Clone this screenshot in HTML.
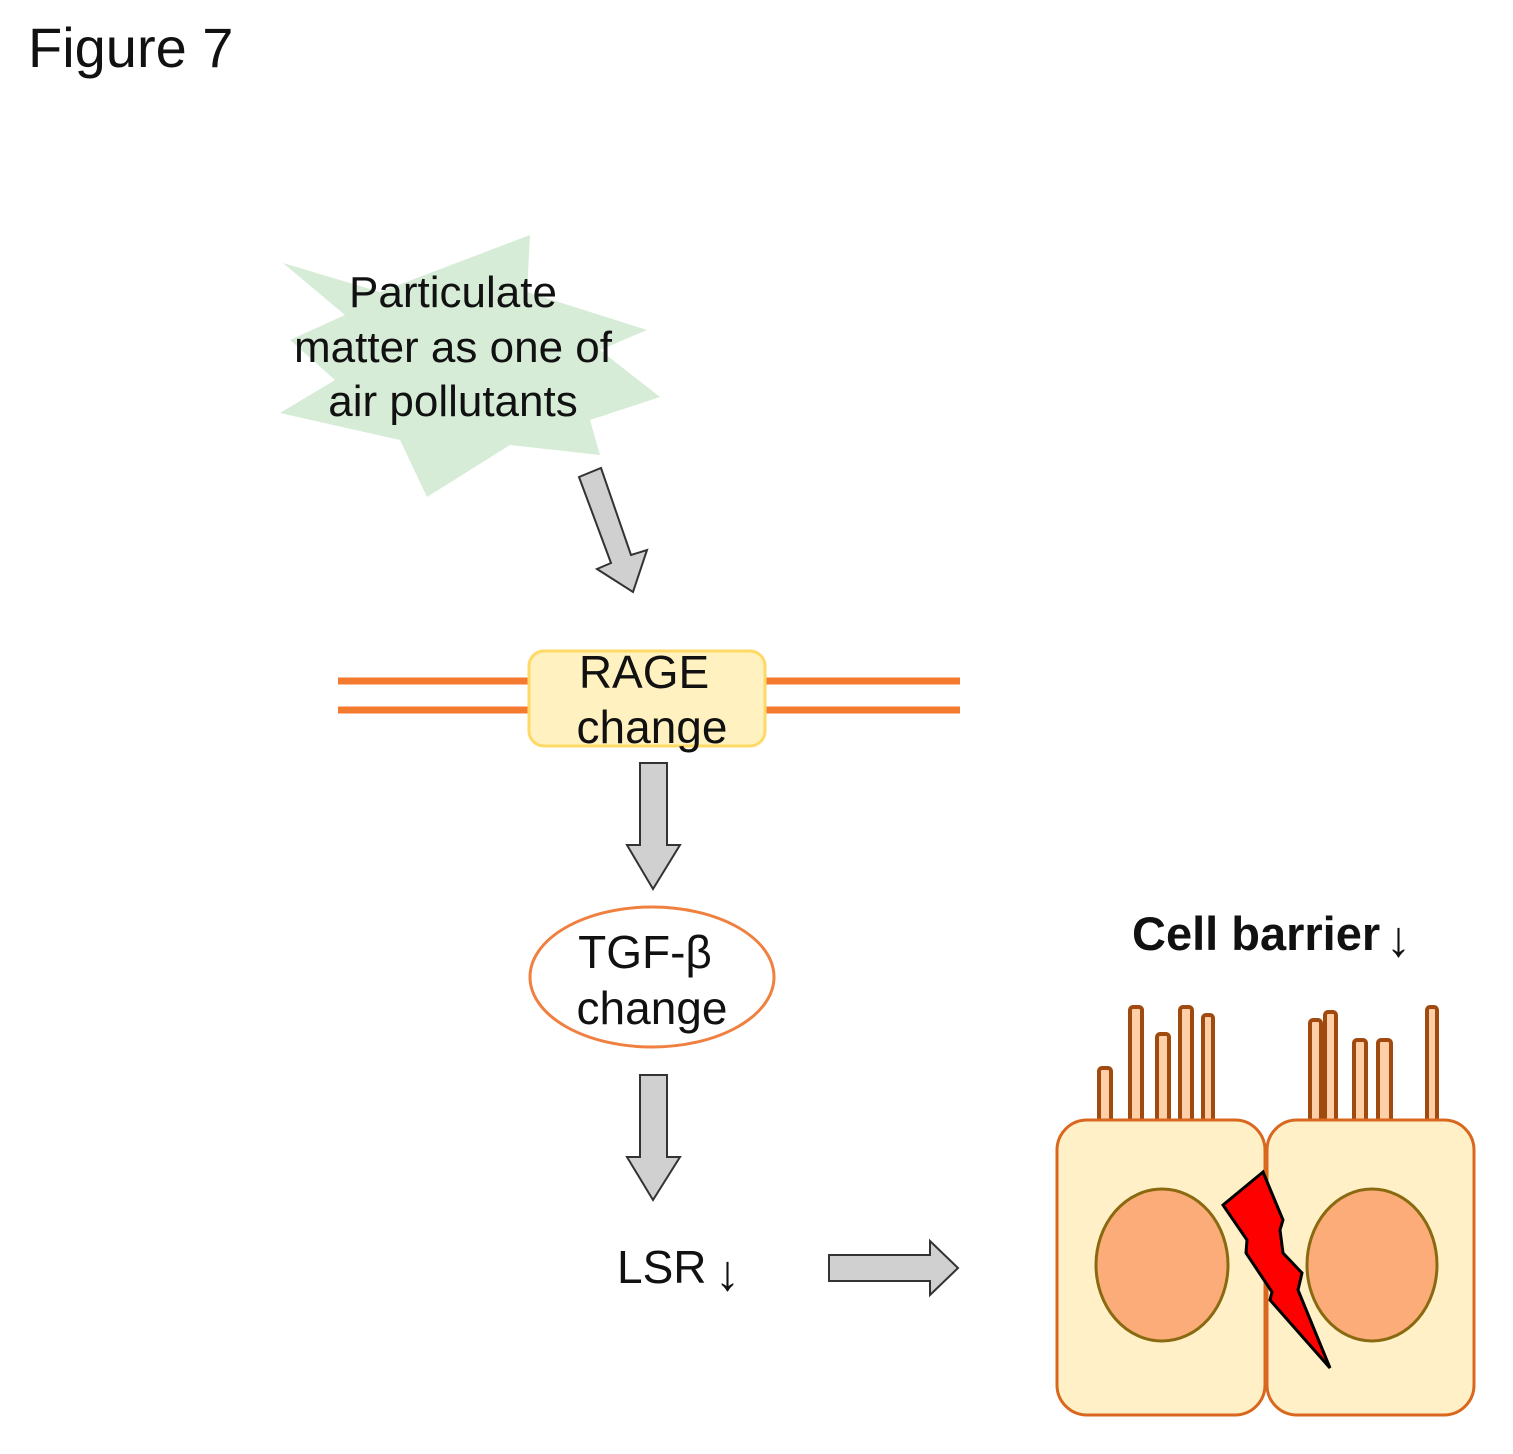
<!DOCTYPE html>
<html><head><meta charset="utf-8"><style>
html,body{margin:0;padding:0;background:#fff;}
svg{display:block;}
text{font-family:"Liberation Sans",Arial,sans-serif;fill:#111;}
</style></head><body>
<svg width="1513" height="1454" viewBox="0 0 1513 1454" xmlns="http://www.w3.org/2000/svg">
<text x="28" y="67" font-size="56">Figure 7</text>
<polygon fill="#d6ecd6" points="283,263 380,292 530,235 527,292 647,330 600,350 660,397 590,420 600,455 510,445 427,497 400,440 280,413 335,380 290,340 345,315"/>
<text x="453" y="307" font-size="44" text-anchor="middle">Particulate</text>
<text x="453" y="362" font-size="44" text-anchor="middle">matter as one of</text>
<text x="453" y="416" font-size="44" text-anchor="middle">air pollutants</text>
<polygon fill="#d0d0d0" stroke="#333" stroke-width="2" points="579,477 601,468 631,555 647,550 633,592 597,569 611,563"/>
<line x1="338" y1="681" x2="960" y2="681" stroke="#f47a30" stroke-width="7"/>
<line x1="338" y1="710" x2="960" y2="710" stroke="#f47a30" stroke-width="7"/>
<rect x="529" y="651" width="236" height="95" rx="15" fill="#fff2c0" stroke="#ffd966" stroke-width="3"/>
<text x="644" y="688" font-size="46" text-anchor="middle">RAGE</text>
<text x="652" y="743" font-size="46" text-anchor="middle">change</text>
<polygon fill="#d0d0d0" stroke="#333" stroke-width="2" points="640,763 667,763 667,845 680,845 653,889 627,845 640,845"/>
<ellipse cx="652" cy="977" rx="122" ry="70" fill="#fff" stroke="#f08040" stroke-width="3"/>
<text x="645" y="968" font-size="46" text-anchor="middle">TGF-β</text>
<text x="652" y="1024" font-size="46" text-anchor="middle">change</text>
<polygon fill="#d0d0d0" stroke="#333" stroke-width="2" points="640,1075 667,1075 667,1157 680,1157 653,1200 627,1157 640,1157"/>
<text x="617" y="1283" font-size="46">LSR</text>
<text x="715" y="1290" font-size="50">↓</text>
<polygon fill="#d0d0d0" stroke="#333" stroke-width="2" points="829,1255 930,1255 930,1241 958,1268 930,1295 930,1281 829,1281"/>
<text x="1132" y="950" font-size="47" font-weight="bold">Cell barrier</text>
<text x="1386" y="956" font-size="50">↓</text>
<g fill="#ffd0a8" stroke="#a04a10" stroke-width="4">
<rect x="1099" y="1068" width="12" height="55" rx="3"/>
<rect x="1130" y="1007" width="12" height="116" rx="3"/>
<rect x="1157" y="1034" width="12" height="89" rx="3"/>
<rect x="1180" y="1007" width="12" height="116" rx="3"/>
<rect x="1203" y="1015" width="10" height="108" rx="3"/>
<rect x="1310" y="1020" width="11" height="103" rx="3"/>
<rect x="1325" y="1012" width="11" height="111" rx="3"/>
<rect x="1354" y="1040" width="12" height="83" rx="3"/>
<rect x="1378" y="1040" width="13" height="83" rx="3"/>
<rect x="1427" y="1007" width="10" height="116" rx="3"/>
</g>
<rect x="1057" y="1120" width="208" height="295" rx="30" fill="#fff0c8" stroke="#d9681e" stroke-width="3"/>
<rect x="1267" y="1120" width="207" height="295" rx="30" fill="#fff0c8" stroke="#d9681e" stroke-width="3"/>
<ellipse cx="1162" cy="1265" rx="66" ry="76" fill="#fbac78" stroke="#8a6a10" stroke-width="3"/>
<ellipse cx="1372" cy="1265" rx="65" ry="76" fill="#fbac78" stroke="#8a6a10" stroke-width="3"/>
<polygon fill="#ff0000" stroke="#000" stroke-width="3" points="1263,1172 1223,1205 1247,1240 1246,1253 1272,1292 1270,1300 1330,1368 1298,1290 1302,1273 1283,1253 1280,1230 1283,1220"/>
</svg>
</body></html>
